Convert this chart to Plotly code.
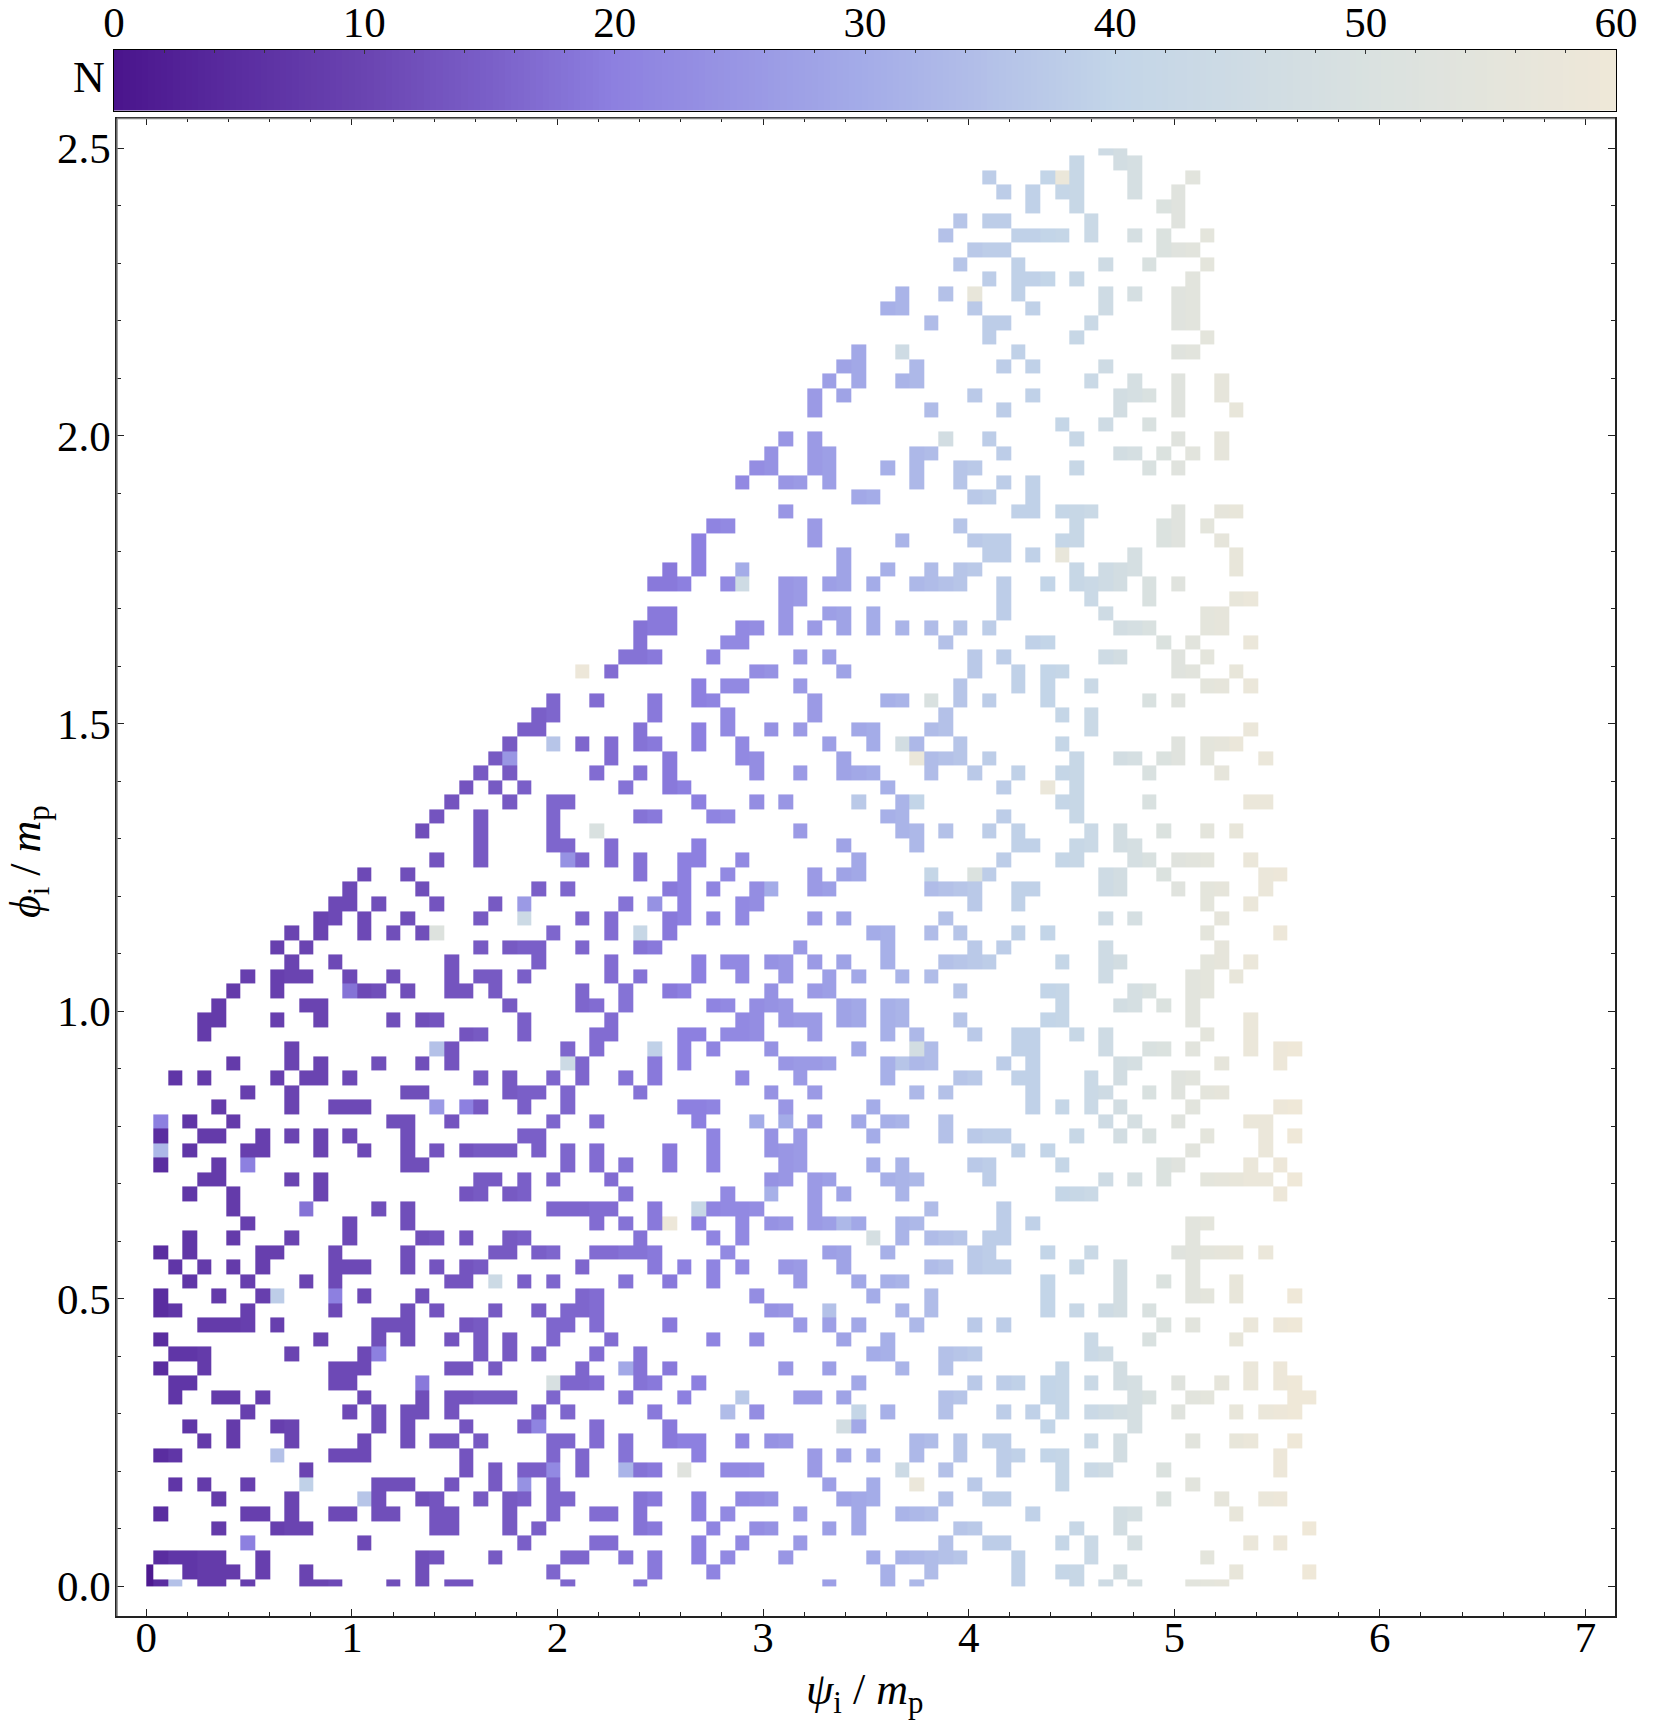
import plotly.graph_objects as go

GRID = 100
psi_max = 7.0
phi_max = 2.5

# filled cells: one list of column numbers per row (row 0 = phi 0)
filled_columns = [
[0,1,2,4,5,7,11,12,13,17,19,21,22,29,34,47,51,53,60,64,66,68,72,73,74],
[0,3,4,5,6,8,11,19,28,35,39,51,54,60,63,64,67,75,80],
[1,2,3,4,5,8,19,20,24,29,30,33,35,38,40,44,50,52,53,54,55,56,60,65,73],
[7,15,26,31,32,38,41,45,55,58,59,63,65,68,76,78],
[5,9,10,11,20,21,25,27,34,35,39,42,43,47,49,56,57,64,67,80],
[1,7,8,10,13,14,16,17,20,21,25,28,31,32,34,38,40,45,49,52,53,54,61,67,68,75],
[5,10,15,16,19,20,23,25,26,28,29,34,35,38,41,42,43,48,49,50,55,58,59,70,74,77,78],
[2,4,7,11,16,17,18,21,24,26,28,47,50,53,57,63,72],
[11,22,24,26,27,28,30,33,34,35,37,40,41,42,46,52,55,59,63,65,66,70,78],
[1,2,9,13,14,15,22,28,30,33,38,46,48,50,53,56,59,60,62,63,67,78],
[4,6,10,15,18,20,21,23,28,29,31,33,36,37,38,41,43,44,53,54,56,58,59,65,67,72,75,76,79],
[3,6,9,10,16,18,22,26,27,31,36,48,49,62,68],
[7,14,16,18,19,21,27,29,35,40,42,49,51,55,59,61,63,65,66,67,68,71,75,77,78,79],
[2,5,6,8,15,19,21,22,23,24,25,28,33,37,41,45,46,48,55,56,62,63,68,69,72,73,79,80],
[2,3,13,14,19,28,29,30,31,34,35,38,49,57,59,60,62,63,65,67,68,71,74,76,78,79],
[1,4,13,14,15,21,22,24,30,33,34,36,44,47,52,55,63,67,76,78],
[2,3,4,10,15,16,23,25,27,31,34,50,51,55,56,57,65,66],
[1,12,16,18,21,23,25,28,32,39,42,48,51,65,69,75],
[4,5,6,7,9,16,17,18,22,23,28,29,31,36,45,47,49,53,57,59,70,72,76,78,79],
[1,2,7,13,18,20,24,27,29,30,31,43,44,47,52,54,62,64,66,67,69],
[1,5,8,9,13,15,19,30,31,42,50,54,62,67,72,73,75,79],
[3,7,11,13,21,22,24,26,28,33,36,39,45,49,51,52,62,67,70,72,75],
[2,4,6,8,13,14,15,18,20,22,23,30,35,37,39,41,44,45,48,54,55,57,58,59,64,67,72],
[1,3,8,9,13,18,24,25,27,28,31,32,33,34,35,40,47,48,51,57,58,62,65,71,72,73,74,75,77],
[3,6,10,14,19,20,22,25,26,34,39,41,50,52,54,55,56,58,59,72],
[7,14,18,31,33,35,36,38,41,43,44,46,47,48,49,52,53,59,61,72,73],
[6,11,16,18,28,29,30,31,32,35,38,39,40,41,42,46,54,59],
[3,6,12,22,23,25,26,33,40,43,46,48,52,63,64,65,78],
[4,5,10,12,23,24,26,28,32,43,44,46,47,51,52,53,58,66,68,70,73,74,75,76,77,79],
[1,5,7,18,19,29,31,33,36,39,44,45,50,52,57,58,63,70,71,76,78],
[1,3,7,8,12,15,18,20,22,23,24,25,27,29,31,36,39,43,44,45,60,62,72,77],
[1,4,5,8,10,12,14,18,26,27,39,43,45,50,55,57,58,59,64,67,69,73,77,79],
[1,3,6,17,18,21,28,31,38,42,44,46,49,51,52,55,66,68,71,76,77],
[5,10,13,14,15,20,22,23,26,29,37,38,39,44,50,61,63,65,67,72,78,79],
[7,10,18,19,25,26,27,29,34,43,46,53,55,61,65,66,69,71,73,74],
[2,4,9,11,12,14,23,25,28,30,33,35,41,45,51,56,57,60,61,65,67,71,72],
[6,10,12,16,19,21,29,30,35,37,44,45,46,47,51,52,53,54,59,61,67,68,74,78],
[10,20,21,29,31,35,37,39,43,49,53,54,60,61,66,69,70,72,76,78,79],
[4,22,23,26,31,32,37,38,40,41,42,46,51,53,57,60,61,64,66,73,76],
[4,5,9,12,17,19,20,26,32,41,42,44,45,46,48,49,51,52,56,62,63,72,76],
[5,11,12,25,30,31,33,39,40,42,43,44,48,49,51,52,63,67,68,70,72],
[6,9,14,15,16,18,21,22,24,30,33,36,37,43,46,47,56,62,63,68,69,72,73],
[7,9,10,11,14,17,21,23,24,26,32,34,38,41,44,47,49,52,54,66,72,73,75],
[10,13,21,27,32,38,40,41,43,44,46,48,51,55,56,57,58,63,66,67,73,74,76],
[9,11,23,25,26,27,30,34,35,45,51,57,59,66,74],
[10,12,15,17,19,20,28,32,34,36,50,51,54,56,60,62,73,78],
[12,13,15,18,23,26,30,32,36,37,39,41,46,48,55,66,68,74],
[13,14,16,20,24,26,33,35,37,41,42,57,60,73,76],
[14,19,27,29,36,37,39,42,43,46,47,54,55,56,57,60,61,66,67,71,73,74,77],
[15,18,34,37,40,46,48,49,54,57,58,66,67,70,77,78],
[20,23,29,30,32,34,37,38,41,49,59,63,64,68,69,71,72,73,76],
[23,28,29,32,38,48,53,60,61,64,65,67,68],
[19,23,28,31,45,52,53,55,58,60,65,67,70,73,75],
[20,23,28,34,35,39,40,51,52,59,64],
[21,25,28,29,38,42,44,49,52,53,63,64,69,76,77],
[22,24,26,33,36,37,51,59,62,64],
[23,25,31,34,36,42,45,48,49,50,54,57,60,63,64,69,74],
[24,25,32,36,41,42,48,53,54,55,56,58,64,67,68,70,71,73,77],
[25,28,30,32,34,35,38,41,47,50,52,53,56,63,71,73,74,75],
[26,27,34,38,40,43,45,49,50,54,55,65,76],
[27,28,35,40,46,55,63,65],
[28,31,35,38,39,46,51,52,54,56,58,62,69,71],
[38,40,41,45,56,60,62,65,73,74,76],
[30,32,42,43,48,57,60,62,63,71,72,75],
[33,34,35,39,45,47,57,59,66,67,71,73],
[34,40,41,55,61,62,70,72,76],
[34,35,36,41,42,44,46,48,50,52,54,56,58,67,68,69,73,74],
[35,36,44,47,48,50,59,66,73,74],
[44,45,59,65,69,75,76],
[35,36,37,40,41,44,45,47,48,50,53,54,55,56,59,62,64,65,66,67,69,71],
[36,38,41,48,51,54,56,57,64,66,67,68,75],
[38,48,58,59,61,63,68,75],
[38,46,52,57,58,59,63,64,70,71,74],
[39,40,46,56,64,70,71,73],
[44,60,61,63,64,65,71,74,75],
[49,50,57,58,61],
[41,44,45,47,53,56,59,61],
[42,43,46,47,51,53,56,57,64,69,71],
[43,46,47,53,54,59,67,68,70,72,74],
[44,46,55,58,64,71,74],
[63,66,69],
[46,54,59,67,71,75],
[46,48,57,61,67,68,69,71,74],
[47,49,52,53,65,68,71,74],
[48,49,53,59,61,66],
[49,52,60,71,72],
[58,64,73],
[54,58,59,65,71,72],
[51,52,57,61,66,71,72],
[52,55,57,60,66,68,71,72],
[58,60,61,62,64,72],
[56,60,66,69,73],
[57,58,59,70,71,72],
[55,60,61,62,63,65,68,70,73],
[56,58,59,65,71],
[61,64,70,71],
[59,61,63,64,68,71],
[58,62,63,64,68,72],
[64,67,68],
[66,67],
]

column_N = [1,5,7,7,8,8,8,9,9,9,10,10,10,11,11,11,12,12,12,12,13,13,13,14,14,14,15,15,16,16,
            16,17,17,18,18,19,19,20,20,21,22,22,23,24,25,26,26,27,28,29,30,31,32,33,34,35,
            36,37,38,38,39,39,40,41,42,43,45,47,48,50,51,53,54,55,56,57,58,58,59,60,60,60]

# cells whose N stands out from their column: (row, column): N
odd_cells = {(0,2):35,(3,7):20,(6,15):36,(7,11):39,(7,26):24,(9,9):35,(11,27):21,(14,19):19,(14,28):49,
             (16,16):20,(20,9):38,(20,13):20,(21,24):44,(26,11):18,(29,7):20,(30,1):33,(32,1):20,(33,20):26,
             (33,22):20,(37,20):35,(41,14):18,(45,20):52,(46,26):44,(47,26):26,(57,25):25,(58,28):36,
             (7,53):58,(8,28):22,(8,33):32,(8,37):53,(8,52):44,(11,48):47,(12,40):34,(12,49):41,(13,41):37,
             (15,33):29,(19,47):35,(24,50):48,(25,36):59,(25,48):33,(26,38):42,(27,43):31,(32,42):30,(32,44):30,
             (36,29):44,(36,52):36,(37,35):39,(37,53):47,(45,34):42,(47,35):24,(48,43):30,(49,54):41,(50,29):24,
             (49,57):51,(52,31):50,(54,49):37,(54,53):40,(57,53):58,(58,52):47,(61,54):50,(63,30):59,(69,41):45,
             (70,41):30,(79,55):47,(85,52):45,(55,62):58,(71,63):57,(89,57):57,(97,63):58,(58,75):58}

color_stops = [[0.0,"#4a148c"],[1/12,"#5a2da0"],[1/6,"#6a44b1"],[0.25,"#7a5fc8"],[1/3,"#8d80e0"],
               [0.5,"#a4ace8"],[2/3,"#c3d5e8"],[5/6,"#d9e1e0"],[1.0,"#efe8d8"]]

x_ticks = [0,1,2,3,4,5,6,7]
y_ticks = [0.0,0.5,1.0,1.5,2.0,2.5]
y_tick_text = ["0.0","0.5","1.0","1.5","2.0","2.5"]
bar_ticks = [0,10,20,30,40,50,60]

dx = psi_max/(GRID-1)
dy = phi_max/(GRID-1)
x_edges = [0.0]+[(j+0.5)*dx for j in range(GRID-1)]+[psi_max]
y_edges = [0.0]+[(i+0.5)*dy for i in range(GRID-1)]+[phi_max]

z = [[None]*GRID for _ in range(GRID)]
for i,cols in enumerate(filled_columns):
    for j in cols:
        z[i][j] = odd_cells.get((i,j), column_N[j])

bar_levels = [k/4 for k in range(241)]

serif = "Liberation Serif"
W,H = 1667,1722
L,R,T,B = 114,51,50,106
pw,ph = W-L-R, H-T-B
main_x = [(117-L)/pw, (1615-L)/pw]
main_y = [(H-B-1616)/ph, (H-B-118.5)/ph]
bar_y = [(H-B-110.5)/ph, 1.0]

fig = go.Figure()
fig.add_trace(go.Heatmap(x=x_edges,y=y_edges,z=z,coloraxis="coloraxis",hoverongaps=False,xaxis="x",yaxis="y"))
fig.add_trace(go.Heatmap(x=bar_levels,y=[0,1],z=[bar_levels,bar_levels],coloraxis="coloraxis",xaxis="x2",yaxis="y2"))

tick_common = dict(ticks="inside",tickcolor="#222222",tickwidth=1,showgrid=False,zeroline=False,automargin=False,
                   showline=True,linecolor="#222222",linewidth=1.5,mirror="ticks",
                   tickfont=dict(family=serif,size=43,color="black"))
fig.update_layout(
    width=W,height=H,margin=dict(l=L,r=R,t=T,b=B,pad=0),
    paper_bgcolor="white",plot_bgcolor="white",showlegend=False,
    coloraxis=dict(colorscale=color_stops,cmin=0,cmax=60,showscale=False),
    xaxis=dict(domain=main_x,range=[-0.1425,7.144],tickvals=x_ticks,ticklen=7,ticklabelstandoff=-17,
               minor=dict(dtick=0.2,ticks="inside",ticklen=4,tickcolor="#222222",tickwidth=1,showgrid=False),
               anchor="y",**tick_common),
    yaxis=dict(domain=main_y,range=[-0.0517,2.552],tickvals=y_ticks,ticktext=y_tick_text,ticklen=7,ticklabelstandoff=-4,
               minor=dict(dtick=0.1,ticks="inside",ticklen=4,tickcolor="#222222",tickwidth=1,showgrid=False),
               anchor="x",**tick_common),
    xaxis2=dict(domain=[0,1],range=[0,60],side="top",anchor="y2",tickvals=bar_ticks,ticks="inside",ticklen=4,automargin=False,
                ticklabelstandoff=-5,
                tickcolor="#333333",minor=dict(dtick=2,ticks="inside",ticklen=3,tickcolor="#333333",showgrid=False),
                showgrid=False,zeroline=False,showline=True,linecolor="black",linewidth=1,mirror=True,
                tickfont=dict(family=serif,size=43,color="black")),
    yaxis2=dict(domain=bar_y,range=[0,1],anchor="x2",tickvals=[],showgrid=False,zeroline=False,automargin=False,
                showline=True,linecolor="black",linewidth=1,mirror=True),
    annotations=[
        dict(text="N",xref="paper",yref="paper",x=(89-L)/pw,y=(H-B-77)/ph,showarrow=False,xanchor="center",yanchor="middle",
             font=dict(family=serif,size=44,color="black")),
        dict(text="<i>ψ</i><sub>i</sub> / <i>m</i><sub>p</sub>",xref="paper",yref="paper",x=(864-L)/pw,y=(H-B-1693)/ph,
             showarrow=False,xanchor="center",yanchor="middle",font=dict(family=serif,size=44,color="black")),
        dict(text="<i>ϕ</i><sub>i</sub> / <i>m</i><sub>p</sub>",xref="paper",yref="paper",x=(28-L)/pw,y=(H-B-862)/ph,
             showarrow=False,xanchor="center",yanchor="middle",textangle=-90,font=dict(family=serif,size=44,color="black")),
    ],
    shapes=[
        dict(type="line",xref="paper",yref="paper",x0=main_x[0],x1=main_x[1],y0=main_y[1],y1=main_y[1],line=dict(color="#808080",width=1.5),layer="above"),
        dict(type="line",xref="paper",yref="paper",x0=main_x[0],x1=main_x[0],y0=main_y[0],y1=main_y[1],line=dict(color="#808080",width=1.5),layer="above"),
    ],
)
fig.write_html("out.html",config=dict(displayModeBar=False),post_script="document.body.style.margin='0';")
